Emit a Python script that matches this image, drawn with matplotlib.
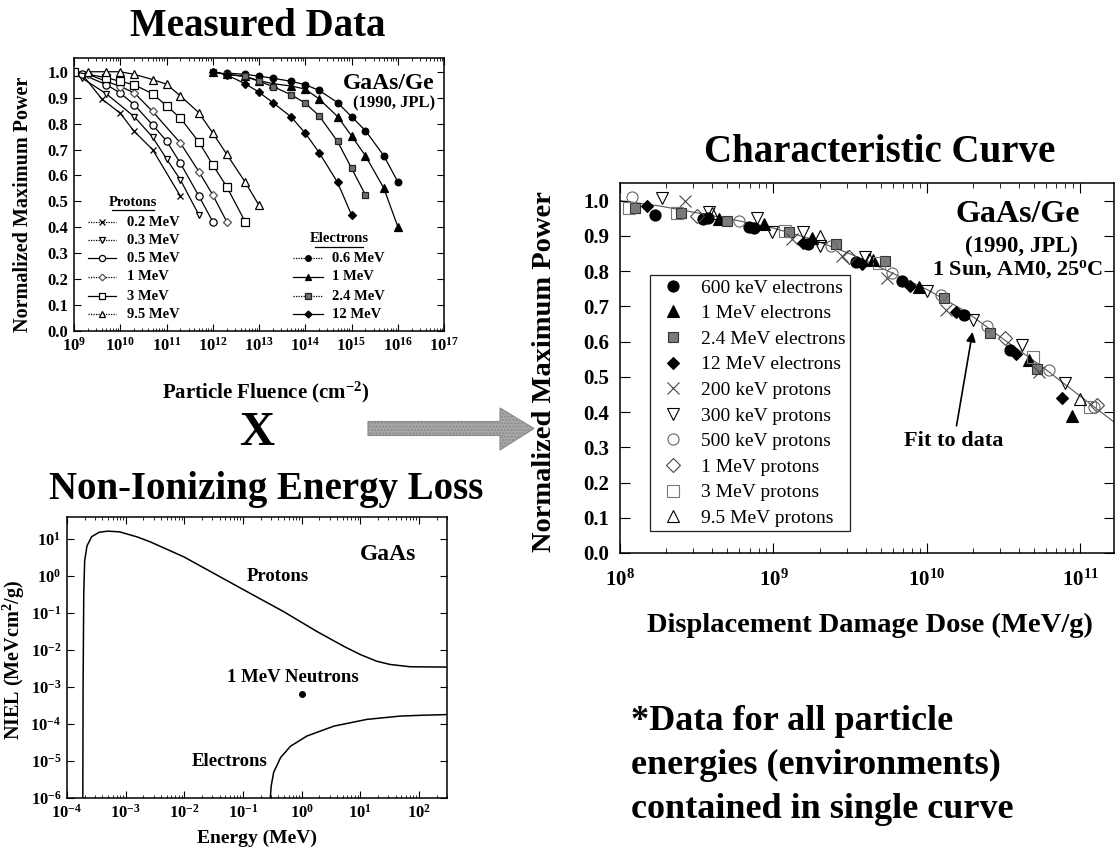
"""Displacement damage dose method: measured data x NIEL -> characteristic curve."""

import numpy as np
import matplotlib
matplotlib.use("Agg")
import matplotlib.pyplot as plt
from matplotlib.lines import Line2D
from matplotlib.patches import Polygon
from matplotlib.ticker import FixedLocator, FuncFormatter, NullFormatter

W, H = 1116, 848

# ---- Measured data: normalized max power vs particle fluence (cm^-2) ----
p02_flu = [1.5e9, 4e9, 1e10, 2e10, 5e10, 2e11]
p02_pow = [0.99, 0.895, 0.84, 0.77, 0.70, 0.52]
p03_flu = [1e9, 1.5e9, 5e9, 2e10, 5e10, 1e11, 2e11, 5e11]
p03_pow = [1.0, 0.975, 0.915, 0.827, 0.748, 0.664, 0.583, 0.448]
p05_flu = [1.5e9, 5e9, 1e10, 2e10, 5e10, 1e11, 2e11, 5e11, 1e12]
p05_pow = [0.99, 0.95, 0.918, 0.873, 0.795, 0.733, 0.647, 0.521, 0.422]
p1_flu = [2e9, 1e10, 2e10, 5e10, 2e11, 5e11, 1e12, 2e12]
p1_pow = [0.99, 0.943, 0.919, 0.847, 0.725, 0.615, 0.525, 0.422]
p3_flu = [1e9, 5e9, 1e10, 2e10, 5e10, 1e11, 2e11, 5e11, 1e12, 2e12, 5e12]
p3_pow = [1.0, 0.977, 0.963, 0.95, 0.915, 0.869, 0.821, 0.729, 0.641, 0.557, 0.422]
p95_flu = [2e9, 5e9, 1e10, 2e10, 5e10, 1e11, 2e11, 5e11, 1e12, 2e12, 5e12, 1e13]
p95_pow = [1.0, 1.0, 1.0, 0.99, 0.97, 0.952, 0.907, 0.842, 0.764, 0.682, 0.575, 0.485]

e06_flu = [2e12, 5e12, 1e13, 2e13, 5e13, 1e14, 2e14, 5e14, 1e15, 2e15, 5e15, 1e16]
e06_pow = [0.995, 0.99, 0.983, 0.975, 0.963, 0.95, 0.928, 0.881, 0.827, 0.773, 0.676, 0.576]
e1_flu = [1e12, 2e12, 5e12, 1e13, 2e13, 5e13, 1e14, 2e14, 5e14, 1e15, 2e15, 5e15, 1e16]
e1_pow = [1.0, 0.99, 0.982, 0.966, 0.954, 0.945, 0.933, 0.895, 0.827, 0.753, 0.676, 0.551, 0.403]
e24_flu = [1e12, 2e12, 5e12, 1e13, 2e13, 5e13, 1e14, 2e14, 5e14, 1e15, 2e15]
e24_pow = [1.0, 0.99, 0.982, 0.963, 0.943, 0.911, 0.879, 0.83, 0.731, 0.628, 0.525]
e12_flu = [1e12, 2e12, 5e12, 1e13, 2e13, 5e13, 1e14, 2e14, 5e14, 1e15]
e12_pow = [1.0, 0.988, 0.954, 0.921, 0.881, 0.825, 0.763, 0.688, 0.573, 0.448]

proton_labels = ["0.2 MeV", "0.3 MeV", "0.5 MeV", "1 MeV", "3 MeV", "9.5 MeV"]
electron_labels = ["0.6 MeV", "1 MeV", "2.4 MeV", "12 MeV"]

# ---- NIEL in GaAs (MeV cm^2/g) vs energy (MeV) ----
niel_p_energy = [1.86e-4, 1.88e-4, 1.93e-4, 2.0e-4, 2.19e-4, 2.63e-4, 3.55e-4, 5.0e-4,
                 7.9e-4, 1.58e-3, 2.63e-3, 9.8e-3, 3.6e-2, 0.133, 0.49, 1.82, 5.25,
                 10, 19, 32, 71, 300]
niel_p_value = [1e-6, 1e-3, 0.32, 2.5, 6.3, 11.2, 14.8, 15.8, 15.1, 11.0, 8.1, 3.2,
                1.03, 0.33, 0.107, 0.031, 0.0123, 0.0074, 0.0049, 0.0040, 0.00347, 0.0034]
niel_e_energy = [0.292, 0.302, 0.333, 0.437, 0.646, 1.23, 3.55, 12.9, 47.9, 105, 300]
niel_e_value = [1e-6, 2.1e-6, 4.9e-6, 1.23e-5, 2.5e-5, 4.7e-5, 8.7e-5, 1.32e-4,
                1.62e-4, 1.7e-4, 1.78e-4]
neutron_energy = [1.0]
neutron_value = [6.2e-4]

# ---- Characteristic curve: normalized max power vs displacement damage dose (MeV/g) ----
e600k_dose = [1.7e8, 3.47e8, 3.76e8, 6.9e8, 7.5e8, 1.68e9, 3.47e9, 6.9e9, 1.74e10, 3.47e10]
e600k_pow = [0.959, 0.948, 0.95, 0.924, 0.921, 0.876, 0.826, 0.771, 0.676, 0.576]
e1m_dose = [4.4e8, 8.7e8, 1.78e9, 4.47e9, 8.9e9, 4.6e10, 8.9e10]
e1m_pow = [0.948, 0.933, 0.895, 0.831, 0.755, 0.548, 0.39]
e24m_dose = [1.26e8, 2.5e8, 5.0e8, 1.26e9, 2.57e9, 5.3e9, 1.29e10, 2.57e10, 5.25e10]
e24m_pow = [0.978, 0.964, 0.943, 0.911, 0.876, 0.829, 0.724, 0.624, 0.521]
e12m_dose = [1.51e8, 1.55e9, 3.8e9, 7.76e9, 1.55e10, 3.8e10, 7.6e10]
e12m_pow = [0.984, 0.879, 0.821, 0.757, 0.683, 0.566, 0.441]
p200k_dose = [2.66e8, 1.33e9, 2.82e9, 5.5e9, 1.33e10, 5.4e10]
p200k_pow = [1.0, 0.89, 0.843, 0.781, 0.69, 0.515]
p300k_dose = [1.88e8, 3.8e8, 7.8e8, 9.8e8, 1.55e9, 2.0e9, 3.98e9, 1.0e10, 2.0e10, 4.2e10, 7.9e10]
p300k_pow = [1.007, 0.969, 0.95, 0.911, 0.91, 0.87, 0.841, 0.743, 0.662, 0.59, 0.483]
p500k_dose = [1.19e8, 6.0e8, 2.37e9, 5.96e9, 1.23e10, 2.45e10, 6.3e10, 1.23e11]
p500k_pow = [1.01, 0.943, 0.871, 0.795, 0.733, 0.645, 0.519, 0.414]
p1m_dose = [3.16e8, 3.09e9, 3.24e10, 1.29e11]
p1m_pow = [0.955, 0.841, 0.61, 0.419]
p3m_dose = [1.15e8, 2.34e8, 1.19e9, 4.9e9, 4.9e10, 1.15e11]
p3m_pow = [0.98, 0.965, 0.914, 0.824, 0.557, 0.413]
p95m_dose = [4.0e8, 2.0e9, 4.2e9, 1.0e11]
p95m_pow = [0.965, 0.90, 0.835, 0.438]

fit_dose = [1e8, 1.8e8, 3.2e8, 5.6e8, 1e9, 1.8e9, 3.2e9, 5.6e9, 1e10, 1.8e10,
            3.2e10, 5.6e10, 1e11, 1.8e11]
fit_pow = [1.0, 0.985, 0.965, 0.945, 0.922, 0.89, 0.848, 0.80, 0.748, 0.685,
           0.605, 0.53, 0.445, 0.36]

ddd_labels = ["600 keV electrons", "1 MeV electrons", "2.4 MeV electrons",
              "12 MeV electrons", "200 keV protons", "300 keV protons",
              "500 keV protons", "1 MeV protons", "3 MeV protons", "9.5 MeV protons"]

plt.rcParams.update({
    "font.family": "Liberation Serif",
    "font.weight": "bold",
    "axes.labelweight": "bold",
    "mathtext.fontset": "custom",
    "mathtext.rm": "Liberation Serif:bold",
    "mathtext.bf": "Liberation Serif:bold",
    "mathtext.it": "Liberation Serif:bold",
    "axes.linewidth": 1.1,
    "xtick.direction": "in",
    "ytick.direction": "in",
})


def box(l, t, r, b):
    return [l / W, 1 - b / H, (r - l) / W, (b - t) / H]


def fx(x):
    return x / W


def fy(y):
    return 1 - y / H


def pow10(v, pos):
    return r"$\mathbf{10^{%d}}$" % int(round(np.log10(v)))


def log_ticks(axis, lo, hi, minor=True):
    # decades lo..hi labelled, minor ticks only inside the range
    axis.set_major_locator(FixedLocator([10.0 ** k for k in range(lo, hi + 1)]))
    axis.set_major_formatter(FuncFormatter(pow10))
    if minor:
        axis.set_minor_locator(FixedLocator([m * 10.0 ** k for k in range(lo, hi + 1)
                                             for m in range(2, 10)]))
    else:
        axis.set_minor_locator(FixedLocator([]))
    axis.set_minor_formatter(NullFormatter())


def tenth_ticks(axis):
    axis.set_major_locator(FixedLocator([round(0.1 * i, 1) for i in range(11)]))
    axis.set_major_formatter(FuncFormatter(lambda v, p: "%.1f" % v))


fig = plt.figure(figsize=(W / 100, H / 100), dpi=100)

# ================= Measured data =================
ax1 = fig.add_axes(box(74, 58, 444, 331))
thin = (0, (1, 1))
p_style = [
    dict(marker="x", ms=5, mec="k", mfc="k", ls=thin),
    dict(marker="v", ms=5, mec="k", mfc="white", ls=thin),
    dict(marker="o", ms=5.2, mec="k", mfc="white", ls="-"),
    dict(marker="D", ms=4, mec="#555", mfc="white", ls=thin),
    dict(marker="s", ms=5.2, mec="k", mfc="white", ls="-"),
    dict(marker="^", ms=5.4, mec="k", mfc="white", ls=thin),
]
e_style = [
    dict(marker="o", ms=4.8, mec="k", mfc="k", ls=thin),
    dict(marker="^", ms=5.2, mec="k", mfc="k", ls="-"),
    dict(marker="s", ms=4.8, mec="#222", mfc="#6e6e6e", ls=thin),
    dict(marker="D", ms=4.2, mec="k", mfc="k", ls="-"),
]
p_data = [(p02_flu, p02_pow), (p03_flu, p03_pow), (p05_flu, p05_pow),
          (p1_flu, p1_pow), (p3_flu, p3_pow), (p95_flu, p95_pow)]
e_data = [(e06_flu, e06_pow), (e1_flu, e1_pow), (e24_flu, e24_pow), (e12_flu, e12_pow)]

for (f, p), st in zip(p_data + e_data, p_style + e_style):
    ax1.plot(f, p, color="k", lw=0.9, mew=0.9, linestyle="-", marker=st["marker"],
             ms=st["ms"], mec=st["mec"], mfc=st["mfc"])

ax1.set_xscale("log")
ax1.set_xlim(1e9, 1e17)
ax1.set_ylim(0, 1.053)
log_ticks(ax1.xaxis, 9, 17)
tenth_ticks(ax1.yaxis)
ax1.tick_params(which="both", top=True, right=True, labelsize=12, pad=4)
ax1.tick_params(which="major", length=5)
ax1.tick_params(which="minor", length=2.5)
ax1.set_ylabel("Normalized Maximum Power", fontsize=14.5)
ax1.yaxis.set_label_coords(-0.11, 0.465)
ax1.set_xlabel(r"Particle Fluence (cm$^{\mathbf{-2}}$)", fontsize=15)
ax1.xaxis.set_label_coords(0.519, -0.18)
ax1.text(0.975, 0.905, "GaAs/Ge", transform=ax1.transAxes, ha="right", va="center", fontsize=17)
ax1.text(0.975, 0.835, "(1990, JPL)", transform=ax1.transAxes, ha="right", va="center", fontsize=12)


def key(x0, x1, y, st, label, tx):
    xm = (x0 + x1) / 2
    fig.add_artist(Line2D([fx(x0), fx(xm), fx(x1)], [fy(y)] * 3, transform=fig.transFigure,
                          color="k", lw=0.9, linestyle=st["ls"], marker=st["marker"],
                          markevery=[1], ms=st["ms"] * 0.85, mec=st["mec"], mfc=st["mfc"], mew=0.9))
    fig.text(fx(tx), fy(y), label, ha="left", va="center", fontsize=10.5)


def header(xc, y, label):
    fig.text(fx(xc), fy(y), label, ha="center", va="center", fontsize=10.5)
    half = 21 if label == "Protons" else 24
    fig.add_artist(Line2D([fx(xc - half), fx(xc + half)], [fy(y + 8)] * 2,
                          transform=fig.transFigure, color="k", lw=0.9))


header(133, 202, "Protons")
for y, st, lab in zip([222, 240, 258, 277, 296, 314], p_style, proton_labels):
    key(88, 116, y, st, lab, 127)
header(339, 239, "Electrons")
for y, st, lab in zip([258, 277, 296, 314], e_style, electron_labels):
    key(293, 323, y, st, lab, 332)

# ================= NIEL =================
ax2 = fig.add_axes(box(67, 517, 447, 798))
ax2.plot(niel_p_energy, niel_p_value, color="k", lw=1.1)
ax2.plot(niel_e_energy, niel_e_value, color="k", lw=1.1)
ax2.plot(neutron_energy, neutron_value, "o", color="k", ms=4)
ax2.set_xscale("log")
ax2.set_yscale("log")
ax2.set_xlim(1e-4, 300)
ax2.set_ylim(1e-6, 10 ** 1.58)
log_ticks(ax2.xaxis, -4, 2)
log_ticks(ax2.yaxis, -6, 1, minor=False)
ax2.tick_params(which="both", top=True, right=True, labelsize=12, pad=4)
ax2.tick_params(which="major", length=5)
ax2.tick_params(which="minor", length=2.5)
ax2.set_ylabel(r"NIEL (MeVcm$^{\mathbf{2}}$/g)", fontsize=14.5)
ax2.yaxis.set_label_coords(-0.105, 0.49)
ax2.set_xlabel("Energy (MeV)", fontsize=14)
ax2.xaxis.set_label_coords(0.5, -0.112)
ax2.text(0.39, 0.92, "Protons", ha="center", va="center", fontsize=13.5)
ax2.text(0.71, 1.74e-3, "1 MeV Neutrons", ha="center", va="center", fontsize=13.5)
ax2.text(0.06, 9.5e-6, "Electrons", ha="center", va="center", fontsize=13.5)
ax2.text(0.92, 0.865, "GaAs", transform=ax2.transAxes, ha="right", va="center", fontsize=17)

# ================= Characteristic curve =================
ax3 = fig.add_axes(box(620, 183, 1114, 553))
ax3.plot(fit_dose, fit_pow, color="#555", lw=0.8, zorder=1)
ddd_data = [(e600k_dose, e600k_pow), (e1m_dose, e1m_pow), (e24m_dose, e24m_pow),
            (e12m_dose, e12m_pow), (p200k_dose, p200k_pow), (p300k_dose, p300k_pow),
            (p500k_dose, p500k_pow), (p1m_dose, p1m_pow), (p3m_dose, p3m_pow),
            (p95m_dose, p95m_pow)]
ddd_style = [
    dict(marker="o", ms=8, mec="k", mfc="k"),
    dict(marker="^", ms=8, mec="k", mfc="k"),
    dict(marker="s", ms=7.5, mec="#333", mfc="#7a7a7a"),
    dict(marker="D", ms=6.5, mec="k", mfc="k"),
    dict(marker="x", ms=9, mec="#444", mfc="#444"),
    dict(marker="v", ms=9, mec="k", mfc="none"),
    dict(marker="o", ms=8, mec="#666", mfc="none"),
    dict(marker="D", ms=7, mec="#444", mfc="none"),
    dict(marker="s", ms=8, mec="#777", mfc="none"),
    dict(marker="^", ms=8.5, mec="k", mfc="none"),
]
handles = []
for (d, p), st in zip(ddd_data, ddd_style):
    ax3.plot(d, p, linestyle="none", mew=0.8, zorder=2, **st)
    handles.append(Line2D([], [], linestyle="none", mew=0.8, **st))

ax3.set_xscale("log")
ax3.set_xlim(1e8, 10 ** 11.22)
ax3.set_ylim(0, 1.05)
log_ticks(ax3.xaxis, 8, 11)
tenth_ticks(ax3.yaxis)
ax3.tick_params(which="both", top=True, right=True, labelsize=15, pad=8)
ax3.tick_params(axis="x", pad=12)
ax3.tick_params(which="major", length=7)
ax3.tick_params(which="minor", length=3.5)
ax3.set_ylabel("Normalized Maximum Power", fontsize=20.5)
ax3.yaxis.set_label_coords(-0.1275, 0.49)
ax3.set_xlabel("Displacement Damage Dose (MeV/g)", fontsize=20.5)
ax3.xaxis.set_label_coords(0.506, -0.162)

leg = ax3.legend(handles, ddd_labels, loc="lower left", bbox_to_anchor=(0.06, 0.06),
                 borderaxespad=0, fancybox=False, edgecolor="#222", framealpha=1,
                 prop={"family": "Liberation Serif", "weight": "normal", "size": 14},
                 handlelength=1.97, handletextpad=0.485, borderpad=0.2, labelspacing=0.41)
leg.get_frame().set_linewidth(0.9)

ax3.annotate("Fit to data", xy=(2.0e10, 0.635), xytext=(1.5e10, 0.317),
             ha="center", va="center", fontsize=16,
             arrowprops=dict(arrowstyle="-|>", color="k", lw=1.2, mutation_scale=14, shrinkA=2))

fig.text(fx(1018), fy(215), "GaAs/Ge", ha="center", va="center", fontsize=23)
fig.text(fx(1021), fy(246), "(1990, JPL)", ha="center", va="center", fontsize=16.5)
fig.text(fx(1018), fy(270), r"1 Sun, AM0, 25$^{\mathbf{o}}$C", ha="center", va="center", fontsize=16)

# ================= Titles, operator, arrow, note =================
fig.text(fx(258), fy(27), "Measured Data", ha="center", va="center", fontsize=28)
fig.text(fx(257), fy(433), "X", ha="center", va="center", fontsize=35)
fig.text(fx(266), fy(490), "Non-Ionizing Energy Loss", ha="center", va="center", fontsize=28)
fig.text(fx(880), fy(152), "Characteristic Curve", ha="center", va="center", fontsize=28)

arrow = [(368, 421.5), (500, 421.5), (500, 408), (534, 428.5), (500, 450), (500, 435.5), (368, 435.5)]
fig.add_artist(Polygon([(fx(x), fy(y)) for x, y in arrow], closed=True, transform=fig.transFigure,
                       facecolor="#a8a8a8", edgecolor="#8a8a8a", lw=0.8, hatch="....."))

note = ["*Data for all particle", "energies (environments)", "contained in single curve"]
for y, line in zip([721, 765, 809], note):
    fig.text(fx(631), fy(y), line, ha="left", va="center", fontsize=26)

fig.savefig("out.png", dpi=100)
